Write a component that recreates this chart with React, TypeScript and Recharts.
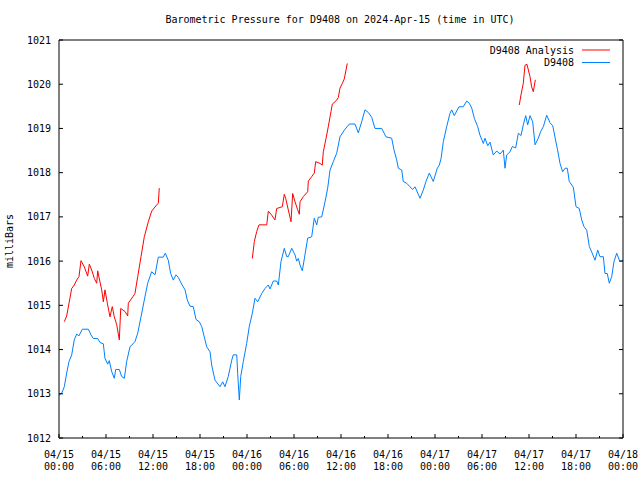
import React from 'react';
import { LineChart, Line, XAxis, YAxis } from 'recharts';

// station readings: [hours since 04/15 00:00 UTC, millibars]
const stationReadings: [number, number][] = [
  [0, 1012.97], [0.34, 1013.01], [0.68, 1013.16], [0.98, 1013.47], [1.28, 1013.73], [1.62, 1013.88],
  [1.95, 1014.22], [2.26, 1014.35], [2.55, 1014.31], [2.97, 1014.46], [3.74, 1014.46], [4.09, 1014.33],
  [4.38, 1014.25], [4.94, 1014.25], [5.23, 1014.16], [5.66, 1014.13], [5.87, 1013.8], [6.22, 1013.67],
  [6.42, 1013.75], [6.73, 1013.5], [7.06, 1013.35], [7.24, 1013.55], [7.7, 1013.55], [8.0, 1013.39],
  [8.34, 1013.35], [8.64, 1013.73], [9.06, 1014.06], [9.7, 1014.18], [10.05, 1014.37], [10.47, 1014.74],
  [10.89, 1015.12], [11.32, 1015.5], [11.83, 1015.76], [12.26, 1015.69], [12.68, 1016.09], [13.31, 1016.09],
  [13.57, 1016.18], [13.95, 1016.02], [14.26, 1015.72], [14.59, 1015.57], [14.94, 1015.69], [15.23, 1015.63],
  [15.66, 1015.48], [16.09, 1015.35], [16.38, 1015.12], [16.72, 1014.98], [17.14, 1014.97], [17.49, 1014.68],
  [17.91, 1014.63], [18.22, 1014.52], [18.64, 1014.22], [18.86, 1014.06], [19.28, 1013.95], [19.49, 1013.65],
  [19.91, 1013.31], [20.55, 1013.16], [20.9, 1013.27], [21.19, 1013.16], [21.61, 1013.39], [22.05, 1013.76],
  [22.25, 1013.88], [22.69, 1013.88], [22.81, 1013.46], [23.02, 1012.86], [23.2, 1013.39], [23.53, 1013.73],
  [23.96, 1014.14], [24.29, 1014.52], [24.68, 1014.82], [25.02, 1015.16], [25.37, 1015.08], [25.88, 1015.27],
  [26.3, 1015.38], [26.72, 1015.46], [26.94, 1015.37], [27.36, 1015.55], [27.79, 1015.55], [28.0, 1015.46],
  [28.34, 1015.99], [28.76, 1016.29], [29.07, 1016.1], [29.27, 1016.1], [29.71, 1016.29], [30.13, 1016.14],
  [30.34, 1016.0], [30.55, 1016.06], [30.77, 1015.91], [31.06, 1015.78], [31.4, 1016.14], [31.75, 1016.52],
  [32.26, 1016.55], [32.59, 1016.97], [32.9, 1016.82], [33.1, 1016.99], [33.54, 1017.0], [33.96, 1017.34],
  [34.3, 1017.65], [34.6, 1018.06], [35.02, 1018.25], [35.45, 1018.44], [35.87, 1018.81], [36.42, 1018.96],
  [37.06, 1019.1], [37.79, 1019.1], [38.21, 1018.9], [38.64, 1019.15], [39.06, 1019.42], [39.49, 1019.36],
  [39.92, 1019.25], [40.34, 1019.0], [41.2, 1019.0], [41.74, 1018.81], [42.47, 1018.78], [42.77, 1018.51],
  [43.11, 1018.29], [43.32, 1018.1], [43.75, 1018.06], [43.95, 1017.8], [44.39, 1017.76], [44.81, 1017.68],
  [45.15, 1017.62], [45.45, 1017.68], [46.09, 1017.42], [46.51, 1017.61], [46.85, 1017.8], [47.27, 1017.99],
  [47.78, 1017.8], [48.29, 1018.1], [48.55, 1018.17], [48.77, 1018.32], [49.06, 1018.7], [49.49, 1019.04],
  [49.91, 1019.34], [50.13, 1019.42], [50.46, 1019.29], [51.06, 1019.49], [51.61, 1019.49], [52.05, 1019.62],
  [52.38, 1019.57], [52.69, 1019.46], [53.02, 1019.23], [53.45, 1019.04], [53.74, 1018.85], [54.17, 1018.66],
  [54.38, 1018.78], [54.73, 1018.61], [55.02, 1018.69], [55.44, 1018.4], [55.88, 1018.49], [56.3, 1018.42],
  [56.72, 1018.51], [56.94, 1018.1], [57.15, 1018.4], [57.57, 1018.47], [57.87, 1018.59], [58.3, 1018.56],
  [58.64, 1018.89], [58.98, 1018.84], [59.27, 1019.08], [59.58, 1019.29], [59.83, 1019.08], [60.13, 1019.29],
  [60.47, 1019.15], [60.77, 1018.63], [61.19, 1018.78], [61.49, 1018.93], [61.83, 1019.04], [62.26, 1019.3],
  [62.68, 1019.13], [63.03, 1019.06], [63.32, 1018.8], [63.61, 1018.55], [63.96, 1018.21], [64.3, 1018.02],
  [64.6, 1018.1], [64.89, 1018.1], [65.14, 1017.8], [65.66, 1017.67], [66.0, 1017.23], [66.42, 1017.19],
  [66.73, 1016.93], [67.02, 1016.78], [67.37, 1016.7], [67.7, 1016.33], [68.0, 1016.21], [68.43, 1016.02],
  [68.77, 1016.25], [69.06, 1016.1], [69.49, 1016.1], [69.7, 1015.72], [69.99, 1015.72], [70.25, 1015.5],
  [70.56, 1015.65], [70.85, 1015.99], [71.2, 1016.18], [71.53, 1016.02], [71.71, 1016.0], [72.0, 1016.02],
];

// analysis readings, null marks a gap between runs
const analysisReadings: [number, number | null][] = [
  [0.68, 1014.63], [0.98, 1014.76], [1.28, 1015.05], [1.62, 1015.38], [1.95, 1015.46], [2.26, 1015.57],
  [2.55, 1015.65], [2.81, 1016.01], [3.23, 1015.87], [3.66, 1015.66], [3.87, 1015.93], [4.17, 1015.8],
  [4.51, 1015.61], [4.81, 1015.5], [4.94, 1015.78], [5.23, 1015.53], [5.45, 1015.35], [5.66, 1015.08],
  [5.87, 1015.35], [6.17, 1015.05], [6.51, 1014.74], [6.8, 1014.97], [7.06, 1014.74], [7.37, 1014.56],
  [7.7, 1014.22], [7.88, 1014.93], [8.43, 1014.86], [8.77, 1014.76], [8.85, 1015.05], [9.49, 1015.21],
  [9.7, 1015.27], [10.05, 1015.65], [10.47, 1016.1], [10.89, 1016.55], [11.4, 1016.89], [11.83, 1017.13],
  [12.47, 1017.27], [12.68, 1017.31], [12.8, 1017.65],
  [18, null],
  [24.68, 1016.06], [24.93, 1016.44], [25.24, 1016.67], [25.53, 1016.82], [26.52, 1016.82], [26.72, 1017.13],
  [27.15, 1017.04], [27.57, 1016.93], [27.79, 1017.19], [28.51, 1017.23], [28.76, 1017.51], [28.94, 1017.42],
  [29.27, 1017.16], [29.62, 1016.89], [29.83, 1017.53], [30.13, 1017.34], [30.47, 1017.16], [30.68, 1017.06],
  [30.77, 1017.34], [31.19, 1017.46], [31.75, 1017.57], [31.83, 1017.81], [32.26, 1017.91], [32.59, 1017.99],
  [32.77, 1018.25], [33.32, 1018.21], [33.61, 1018.17], [33.74, 1018.47], [34.05, 1018.74], [34.38, 1019.04],
  [34.72, 1019.38], [34.89, 1019.55], [35.45, 1019.64], [35.66, 1019.7], [35.87, 1019.91], [36.17, 1020.02],
  [36.42, 1020.12], [36.8, 1020.47],
  [48, null],
  [58.76, 1019.53], [58.98, 1019.76], [59.27, 1020.02], [59.49, 1020.43], [59.74, 1020.45], [60.13, 1020.17],
  [60.34, 1019.94], [60.55, 1019.83], [60.81, 1020.1],
];

const xTicks = [0, 3, 6, 9, 12, 15, 18, 21, 24, 27, 30, 33, 36, 39, 42, 45, 48, 51, 54, 57, 60, 63, 66, 69, 72];
const tickDates = ['04/15', '04/15', '04/15', '04/15', '04/16', '04/16', '04/16', '04/16', '04/17', '04/17', '04/17', '04/17', '04/18'];
const tickTimes = ['00:00', '06:00', '12:00', '18:00', '00:00', '06:00', '12:00', '18:00', '00:00', '06:00', '12:00', '18:00', '00:00'];
const yTicks = [1012, 1013, 1014, 1015, 1016, 1017, 1018, 1019, 1020, 1021];

const FONT = "'DejaVu Sans Mono', monospace";
const RED = '#ff0000';
const BLUE = '#0080ff';

const stationData = stationReadings.map(([hour, mbar]) => ({ hour, mbar }));
const analysisData = analysisReadings.map(([hour, mbar]) => ({ hour, mbar }));

const BottomTick = (props: any) => {
  const { x, y, payload } = props;
  const h = payload.value;
  const major = h % 6 === 0;
  const i = h / 6;
  return (
    <g>
      <line x1={x} y1={y} x2={x} y2={y - (major ? 4 : 2)} stroke="#000" />
      {major && (
        <text x={x} y={y + 19.5} textAnchor="middle" fontFamily={FONT} fontSize={10} fill="#000">
          {tickDates[i]}
        </text>
      )}
      {major && (
        <text x={x} y={y + 31.5} textAnchor="middle" fontFamily={FONT} fontSize={10} fill="#000">
          {tickTimes[i]}
        </text>
      )}
    </g>
  );
};

const TopTick = (props: any) => {
  const { x, y, payload } = props;
  const major = payload.value % 6 === 0;
  return <line x1={x} y1={y} x2={x} y2={y + (major ? 4 : 2)} stroke="#000" />;
};

const LeftTick = (props: any) => {
  const { x, y, payload } = props;
  return (
    <g>
      <line x1={x} y1={y} x2={x + 4} y2={y} stroke="#000" />
      <text x={x - 8} y={y + 3.5} textAnchor="end" fontFamily={FONT} fontSize={10} fill="#000">
        {payload.value}
      </text>
    </g>
  );
};

const RightTick = (props: any) => {
  const { x, y } = props;
  return <line x1={x} y1={y} x2={x - 4} y2={y} stroke="#000" />;
};

export default function App() {
  return (
    <div style={{ position: 'absolute', left: 0, top: 0, width: 640, height: 480, background: '#fff' }}>
      <LineChart width={640} height={480} margin={{ top: 0, right: 0, bottom: 0, left: 0 }}>
        <XAxis
          dataKey="hour"
          type="number"
          domain={[0, 72]}
          ticks={xTicks}
          interval={0}
          allowDataOverflow
          height={42}
          tickSize={0}
          tickMargin={0}
          axisLine={{ stroke: '#000' }}
          tick={<BottomTick />}
        />
        <XAxis
          xAxisId="top"
          orientation="top"
          type="number"
          domain={[0, 72]}
          ticks={xTicks}
          interval={0}
          allowDataOverflow
          height={40}
          tickSize={0}
          tickMargin={0}
          axisLine={{ stroke: '#000' }}
          tick={<TopTick />}
        />
        <YAxis
          type="number"
          domain={[1012, 1021]}
          ticks={yTicks}
          interval={0}
          allowDataOverflow
          width={59}
          tickSize={0}
          tickMargin={0}
          axisLine={{ stroke: '#000' }}
          tick={<LeftTick />}
        />
        <YAxis
          yAxisId="right"
          orientation="right"
          type="number"
          domain={[1012, 1021]}
          ticks={yTicks}
          interval={0}
          allowDataOverflow
          width={17}
          tickSize={0}
          tickMargin={0}
          axisLine={{ stroke: '#000' }}
          tick={<RightTick />}
        />
        <Line
          data={analysisData}
          dataKey="mbar"
          type="linear"
          stroke={RED}
          strokeWidth={1}
          dot={false}
          activeDot={false}
          connectNulls={false}
          isAnimationActive={false}
        />
        <Line
          data={stationData}
          dataKey="mbar"
          type="linear"
          stroke={BLUE}
          strokeWidth={1}
          dot={false}
          activeDot={false}
          isAnimationActive={false}
        />
      </LineChart>
      <svg
        width={640}
        height={480}
        style={{ position: 'absolute', left: 0, top: 0, pointerEvents: 'none' }}
        fontFamily={FONT}
        fontSize={10}
      >
        <text x={340} y={23} textAnchor="middle" fill="#000">
          Barometric Pressure for D9408 on 2024-Apr-15 (time in UTC)
        </text>
        <text x={13} y={241} textAnchor="middle" fill="#000" transform="rotate(-90 13 241)">
          milliBars
        </text>
        <text x={574} y={53.5} textAnchor="end" fill="#000">D9408 Analysis</text>
        <line x1={582} y1={50} x2={610} y2={50} stroke={RED} />
        <text x={574} y={66} textAnchor="end" fill="#000">D9408</text>
        <line x1={582} y1={62.5} x2={610} y2={62.5} stroke={BLUE} />
      </svg>
    </div>
  );
}
